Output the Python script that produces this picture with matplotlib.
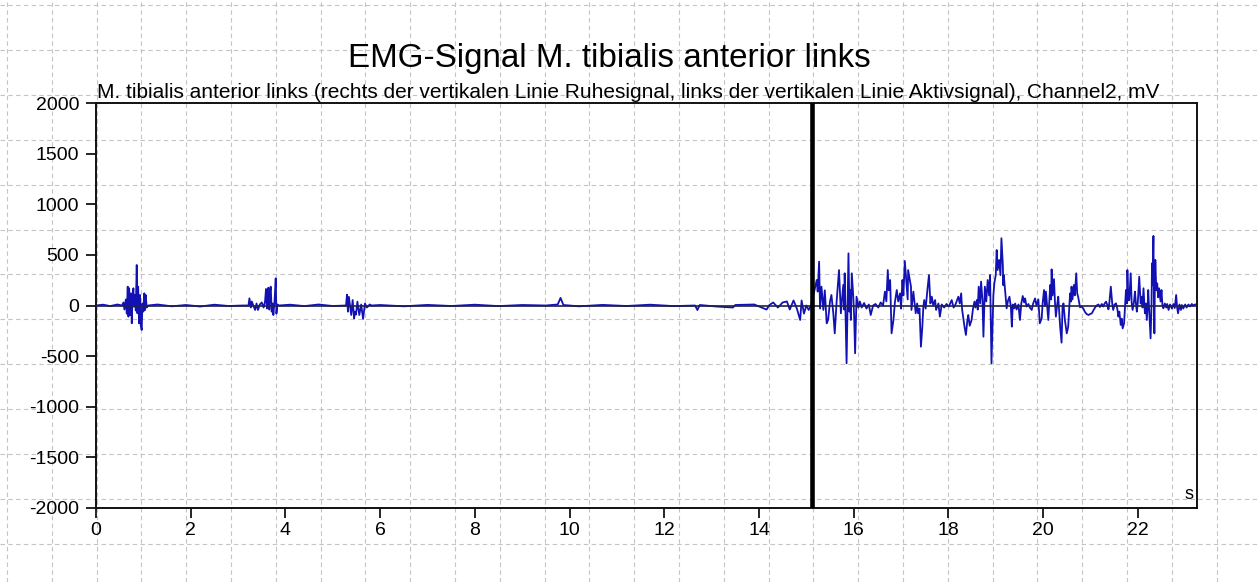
import numpy as np
import matplotlib
matplotlib.use("Agg")
import matplotlib.pyplot as plt

plt.rcParams['font.family'] = ['Liberation Sans', 'DejaVu Sans']
plt.rcParams['axes.unicode_minus'] = False

# --- EMG trace (time in s, amplitude in mV) ---
# quiet start and first burst (~0.6-1.1 s)
t_rest_a = [0.0, 0.15, 0.3, 0.45, 0.55]
v_rest_a = [0, 8, -6, 10, 0]
t_burst1 = [0.58, 0.60, 0.63, 0.65, 0.67, 0.685, 0.70, 0.72, 0.74, 0.755, 0.77, 0.79,
            0.80, 0.82, 0.84, 0.86, 0.875, 0.89, 0.91, 0.93, 0.945, 0.965, 0.98, 1.00,
            1.02, 1.035, 1.05, 1.07, 1.10]
v_burst1 = [30, -40, 60, -80, 186, -110, 170, -94, 120, -176, 80, 170,
            -12, 104, -50, 400, -77, 186, -176, 104, -193, -242, 20, -60,
            120, -45, 104, -20, 0]

# quiet stretch and second burst (~3.2-3.85 s)
t_rest_b = [1.3, 1.6, 1.9, 2.2, 2.5, 2.8, 3.1]
v_rest_b = [10, -8, 5, -10, 8, -5, 0]
t_burst2 = [3.22, 3.24, 3.27, 3.29, 3.33, 3.36, 3.39, 3.42, 3.46, 3.50, 3.54, 3.57,
            3.59, 3.61, 3.63, 3.64, 3.66, 3.67, 3.69, 3.71, 3.73, 3.745, 3.77, 3.795,
            3.81, 3.83, 3.86]
v_burst2 = [0, 71, -20, 40, -10, -44, 20, -44, 10, 30, -20, 40,
            163, -30, 60, 176, -40, 120, 186, -61, 20, -94, 40, 268,
            -80, 10, 0]

# quiet stretch and third burst (~5.3-5.8 s)
t_rest_c = [4.1, 4.4, 4.7, 5.0, 5.25]
v_rest_c = [8, -6, 10, -5, 0]
t_burst3 = [5.28, 5.30, 5.32, 5.34, 5.37, 5.39, 5.42, 5.45, 5.47, 5.49, 5.52, 5.56,
            5.60, 5.64, 5.68, 5.72, 5.78, 5.82]
v_burst3 = [0, 107, -61, 86, -20, -94, 54, -127, -60, -90, 38, -94,
            10, -133, 20, -20, 10, 0]

# long resting stretch up to the marker line
t_rest_d = [6.0, 6.5, 7.0, 7.5, 8.0, 8.5, 9.0, 9.5, 9.75, 9.81, 9.87, 10.2,
            10.7, 11.2, 11.7, 12.2, 12.65, 12.7, 12.75, 13.1, 13.45, 13.5, 13.9,
            14.16, 14.22, 14.3, 14.4, 14.5, 14.59, 14.65, 14.73, 14.8, 14.87,
            14.9, 14.95, 15.0, 15.05, 15.10]
v_rest_d = [5, -8, 6, -5, 8, -6, 5, 0, 10, 75, 5, -8,
            6, -5, 8, -6, 0, -45, 5, -10, -20, 5, 10,
            -40, 5, 30, -20, 30, 40, -40, 50, -30, -143,
            50, -80, 0, -44, 0]

# active signal after the marker line (15.1-23.2 s)
t_active = [15.22, 15.24, 15.27, 15.29, 15.32, 15.36, 15.39, 15.43, 15.46, 15.50,
            15.53, 15.57, 15.60, 15.64, 15.66, 15.69, 15.73, 15.78, 15.80, 15.81,
            15.85, 15.89, 15.91, 15.92, 15.94, 15.96, 15.99, 16.01, 16.03, 16.06,
            16.10, 16.13, 16.17, 16.22, 16.27, 16.32, 16.36, 16.41, 16.46, 16.52,
            16.57, 16.62, 16.66, 16.69, 16.72, 16.74, 16.77, 16.80, 16.84, 16.87,
            16.91, 16.94, 16.98, 17.00, 17.03, 17.05, 17.08, 17.12, 17.14, 17.15,
            17.21, 17.22, 17.26, 17.31, 17.34, 17.36, 17.39, 17.42, 17.45, 17.47,
            17.49, 17.52, 17.56, 17.59, 17.62, 17.65, 17.68, 17.72, 17.74, 17.79,
            17.82, 17.86, 17.91, 17.96, 18.01, 18.07, 18.11, 18.15, 18.21, 18.24,
            18.27, 18.29, 18.34, 18.37, 18.40, 18.42, 18.45, 18.49, 18.52, 18.55,
            18.57, 18.60, 18.62, 18.64, 18.67, 18.69, 18.72, 18.74, 18.77, 18.80,
            18.83, 18.86, 18.88, 18.91, 18.95, 18.97, 19.00, 19.02, 19.04, 19.07,
            19.10, 19.12, 19.15, 19.16, 19.17, 19.20, 19.23, 19.26, 19.29, 19.32,
            19.34, 19.36, 19.39, 19.41, 19.44, 19.48, 19.51, 19.54, 19.57, 19.60,
            19.62, 19.65, 19.69, 19.72, 19.76, 19.79, 19.83, 19.86, 19.90, 19.93,
            19.97, 19.99, 20.02, 20.04, 20.06, 20.09, 20.11, 20.15, 20.17, 20.18,
            20.20, 20.23, 20.25, 20.27, 20.30, 20.32, 20.36, 20.39, 20.41, 20.43,
            20.46, 20.50, 20.53, 20.55, 20.57, 20.59, 20.60, 20.62, 20.65, 20.67,
            20.70, 20.72, 20.74, 20.78, 20.81, 20.85, 20.88, 20.92, 20.96, 20.99,
            21.03, 21.06, 21.10, 21.13, 21.17, 21.20, 21.24, 21.27, 21.30, 21.33,
            21.36, 21.38, 21.40, 21.43, 21.46, 21.48, 21.51, 21.54, 21.57, 21.59,
            21.61, 21.64, 21.66, 21.68, 21.71, 21.73, 21.75, 21.77, 21.78, 21.80,
            21.82, 21.85, 21.87, 21.89, 21.92, 21.94, 21.96, 21.98, 22.00, 22.03,
            22.06, 22.08, 22.10, 22.12, 22.14, 22.15, 22.17, 22.19, 22.21, 22.22,
            22.24, 22.27, 22.29, 22.30, 22.31, 22.33, 22.34, 22.35, 22.36, 22.37,
            22.39, 22.41, 22.43, 22.45, 22.48, 22.50, 22.52, 22.54, 22.57, 22.60,
            22.62, 22.65, 22.68, 22.72, 22.75, 22.78, 22.81, 22.83, 22.85, 22.88,
            22.91, 22.93, 22.96, 23.00, 23.03, 23.07, 23.10, 23.14, 23.17, 23.21]
v_active = [252, 137, 433, -30, 186, -44, 150, -176, -143, 40,
            104, -77, -275, 40, 170, 350, -77, 203, -40, 318,
            -571, 515, -60, 153, -143, 318, 100, -110, -472, 87,
            -20, 40, -20, 25, -30, 10, -94, 0, 15, -20,
            30, 0, 137, 40, 350, 150, 252, -275, -143, 30,
            153, 40, 120, -30, 252, 100, 440, 186, 60, 350,
            186, -44, 137, -77, 20, -77, -30, -407, -209, -20,
            54, -30, 170, 301, 20, 87, 0, 54, -44, 20,
            -110, 10, -20, 15, -10, 54, -20, 10, 87, 20,
            120, -40, -209, -291, -150, -94, -200, -143, -30, 38,
            -20, 54, -40, 186, 20, 236, 50, -308, 186, 40,
            252, 100, 301, -571, 100, 219, 300, 548, 350, 450,
            300, 664, 400, 200, 300, 137, -28, 50, 87, -20,
            -209, 10, -28, 20, -40, 10, -143, 20, 94, 30,
            70, -10, 15, -20, -44, 20, 70, 0, 60, -176,
            -127, 20, 153, 0, 137, -30, -143, 203, 60, 357,
            100, 260, 40, -110, 20, 87, -209, -367, -20, 21,
            -143, -275, -209, -40, 120, 40, 186, 60, 203, 100,
            318, 120, 87, -18, -10, -30, -61, -85, -94, -85,
            -77, -50, -18, 0, 10, -15, 15, -10, 20, 38,
            0, -38, 30, 186, 20, -44, 10, 21, -40, -110,
            -60, -192, -130, -226, -176, -20, 153, 20, 350, 50,
            54, 318, 30, -44, 40, 137, 20, -61, 30, 284,
            20, 87, -20, 170, 10, -77, 20, -143, 30, 153,
            -50, -324, 20, 417, 200, 687, 100, -275, 200, 450,
            150, 219, 80, 170, 40, 153, 0, -28, 20, -20,
            15, -44, 10, -30, 15, -25, 104, -20, -77, 10,
            -44, 5, -30, 10, -20, 10, -10, 15, 0, 10]

marker_t = 15.11  # vertical line separating active / resting signal

t = np.concatenate([t_rest_a, t_burst1, t_rest_b, t_burst2, t_rest_c, t_burst3,
                    t_rest_d, t_active])
emg = np.concatenate([v_rest_a, v_burst1, v_rest_b, v_burst2, v_rest_c, v_burst3,
                      v_rest_d, v_active])

W, H = 1257, 582
fig = plt.figure(figsize=(W / 100, H / 100), dpi=100, facecolor='white')

# dashed page grid behind everything
bg = fig.add_axes([0, 0, 1, 1], zorder=0)
bg.set_xlim(0, W)
bg.set_ylim(H, 0)
bg.axis('off')
for yy in 5 + 44.9 * np.arange(13):
    bg.axhline(yy, color='#c4c4c4', lw=0.8, dashes=(4, 3))
for xx in 7 + 44.8 * np.arange(28):
    bg.axvline(xx, color='#c4c4c4', lw=0.8, dashes=(4, 3))

ax = fig.add_axes([96 / W, (H - 508) / H, 1101 / W, 405 / H], zorder=1)
ax.set_facecolor('none')
ax.plot(t, emg, color='#1212b4', lw=1.3, zorder=2)
ax.axhline(0, color='#20204a', lw=1.2, zorder=3)
ax.axvline(marker_t, color='black', lw=3.3, zorder=4)

ax.set_xlim(0, 23.25)
ax.set_ylim(-2000, 2000)
ax.set_xticks(np.arange(0, 23, 2))
ax.set_yticks(np.arange(-2000, 2001, 500))
ax.tick_params(direction='out', length=7, width=1.2, labelsize=14, colors='black')
ax.tick_params(axis='y', pad=5)
ax.tick_params(axis='x', pad=3)
for s in ax.spines.values():
    s.set_linewidth(1.4)
    s.set_color('#111111')

ax.text(0.997, 0.012, 's', transform=ax.transAxes, ha='right', va='bottom', fontsize=13)

fig.text(609 / W, 1 - 67 / H, 'EMG-Signal M. tibialis anterior links', ha='center',
         va='baseline', fontsize=23.9)
fig.text(97 / W, 1 - 98 / H,
         'M. tibialis anterior links (rechts der vertikalen Linie Ruhesignal, links der '
         'vertikalen Linie Aktivsignal), Channel2, mV', ha='left', va='baseline', fontsize=15.0)

fig.savefig('out.png', dpi=100)
